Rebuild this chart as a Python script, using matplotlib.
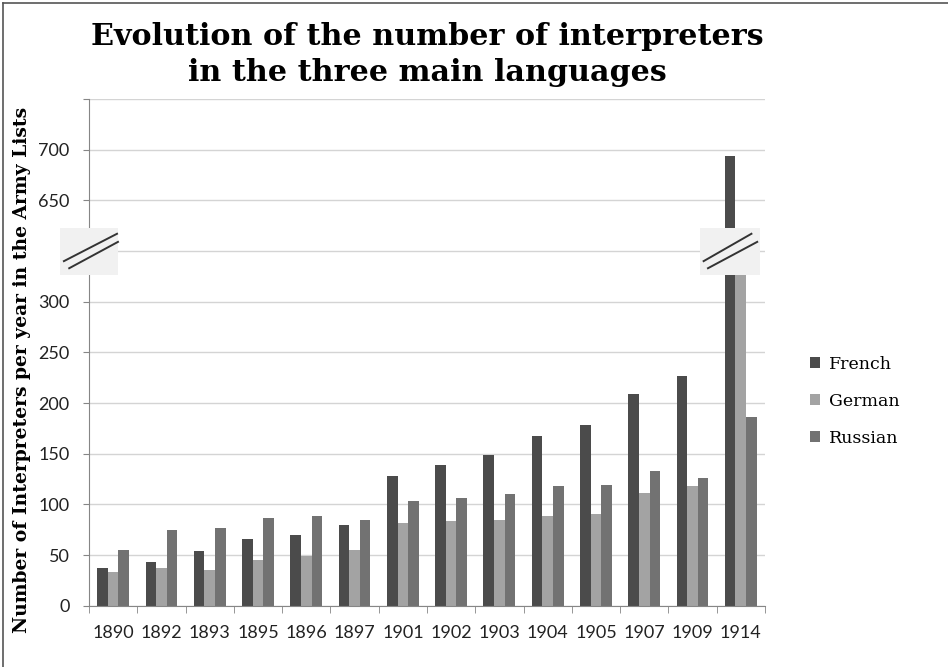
import matplotlib
matplotlib.use("Agg")
import matplotlib.pyplot as plt
from matplotlib.lines import Line2D
from matplotlib.patches import Rectangle
import numpy as np

# data
years = ["1890", "1892", "1893", "1895", "1896", "1897", "1901",
         "1902", "1903", "1904", "1905", "1907", "1909", "1914"]
french = [37, 43, 54, 66, 70, 80, 128, 139, 149, 167, 178, 209, 227, 694]
german = [33, 37, 35, 45, 49, 55, 82, 84, 85, 89, 90, 111, 118, 333]
russian = [55, 75, 77, 87, 89, 85, 103, 106, 110, 118, 119, 133, 126, 186]

# broken axis: real values above the break are shifted down by 250
BREAK_SHIFT = 250
def squash(vals):
    return [v - BREAK_SHIFT if v > 350 else v for v in vals]

tick_pos = [0, 50, 100, 150, 200, 250, 300, 350, 400, 450, 500]
tick_txt = ["0", "50", "100", "150", "200", "250", "300", "", "650", "700", ""]

c_fr, c_ge, c_ru = "#4b4b4b", "#a3a3a3", "#727272"

fig = plt.figure(figsize=(9.48, 6.67), dpi=100)
ax = fig.add_axes([0.0939, 0.0919, 0.713, 0.7597])

x = np.arange(len(years))
w = 0.22
ax.bar(x - w, squash(french), w, color=c_fr, label="French", zorder=2)
ax.bar(x, squash(german), w, color=c_ge, label="German", zorder=2)
ax.bar(x + w, squash(russian), w, color=c_ru, label="Russian", zorder=2)

ax.set_xlim(-0.5, len(years) - 0.5)
ax.set_ylim(0, 500)
ax.set_yticks(tick_pos)
ax.set_yticklabels(tick_txt)
ax.set_xticks(x)
ax.set_xticklabels(years)
ax.set_xticks(np.arange(len(years) + 1) - 0.5, minor=True)
ax.tick_params(axis="x", which="major", length=0, pad=14)
ax.tick_params(axis="x", which="minor", length=5, color="#868686", direction="out")
ax.tick_params(axis="y", length=4, color="#868686", pad=10)
for lab in ax.get_xticklabels() + ax.get_yticklabels():
    lab.set_family("Lato")
    lab.set_fontsize(13)
    lab.set_color("#222222")

ax.grid(axis="y", color="#d4d4d4", lw=1, zorder=0)
ax.set_axisbelow(True)
for s in ["top", "right"]:
    ax.spines[s].set_visible(False)
for s in ["left", "bottom"]:
    ax.spines[s].set_color("#868686")

# break markers
def break_mark(x0, x1, lines):
    ax.add_patch(Rectangle((x0, 326), x1 - x0, 47, facecolor="#f1f1f1",
                           edgecolor="none", clip_on=False, zorder=4))
    for (xa, ya, xb, yb) in lines:
        ax.add_line(Line2D([xa, xb], [ya, yb], color="#333333", lw=1.4,
                           clip_on=False, zorder=5))

break_mark(-1.1, 0.1, [(-1.02, 340, 0.08, 367), (-0.91, 333, 0.10, 359)])
break_mark(12.15, 13.39, [(12.23, 340, 13.22, 367), (12.32, 333, 13.34, 359)])

fig.text(0.451, 0.918, "Evolution of the number of interpreters\nin the three main languages",
         ha="center", va="center", family="DejaVu Serif", weight="bold",
         fontsize=21.7, linespacing=1.3)
fig.text(0.023, 0.445, "Number of Interpreters per year in the Army Lists",
         rotation=90, ha="center", va="center", family="DejaVu Serif",
         weight="bold", fontsize=13.5)

ax.legend(loc="center left", bbox_to_anchor=(0.838, 0.398), bbox_transform=fig.transFigure,
          frameon=False, handlelength=0.6, handleheight=0.6, handletextpad=0.5,
          labelspacing=1.15, prop={"family": "DejaVu Serif", "size": 12.5})

# frame lines of the original picture
fig.add_artist(Line2D([0.0035, 0.0035], [0, 0.995], color="#555555", lw=1.2))
fig.add_artist(Line2D([0.0035, 1.0], [0.995, 0.995], color="#555555", lw=1.2))

fig.savefig("out.png", dpi=100)
